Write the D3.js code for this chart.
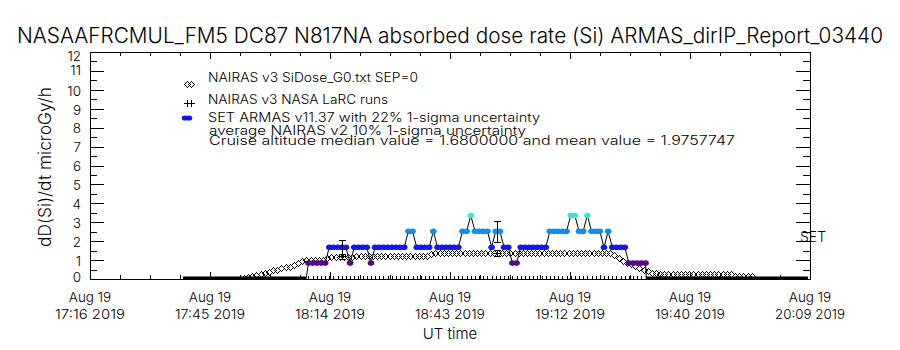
<!DOCTYPE html>
<html>
<head>
<meta charset="utf-8">
<script src="https://cdn.jsdelivr.net/npm/d3@7"></script>
<style>
  html, body { margin: 0; padding: 0; background: #fff; }
  svg { display: block; }
  text { font-family: "Inter", "Roboto", "DejaVu Sans", sans-serif; font-weight: 300; fill: #000; }
</style>
</head>
<body>
<svg id="chart" width="900" height="350"></svg>
<script>
// ---- data ----
const titleText = "NASAAFRCMUL_FM5 DC87 N817NA absorbed dose rate (Si) ARMAS_dirIP_Report_03440";
const yLabelText = "dD(Si)/dt microGy/h";
const xLabelText = "UT time";

const xStart = "2019-08-19T17:16:00Z";
const xEnd = "2019-08-19T20:09:00Z";
const xTickTop = ["Aug 19", "Aug 19", "Aug 19", "Aug 19", "Aug 19", "Aug 19", "Aug 19"];
const xTickBottom = ["17:16 2019", "17:45 2019", "18:14 2019", "18:43 2019", "19:12 2019", "19:40 2019", "20:09 2019"];
const xMinorPerMajor = 4;
const yTicks = [0, 1, 2, 3, 4, 5, 6, 7, 8, 9, 10, 11, 12];

const legendLabels = [
  "NAIRAS v3 SiDose_G0.txt SEP=0",
  "NAIRAS v3 NASA LaRC runs",
  "SET ARMAS v11.37 with 22% 1-sigma uncertainty",
  "average NAIRAS v2 10% 1-sigma uncertainty",
  "Cruise altitude median value = 1.6800000 and mean value = 1.9757747"
];

// ARMAS in-flight samples (microGy/h), one per minute
const armasStart = "2019-08-19T18:08:30Z";
const armasStepSec = 60;
const armasValues = [
  0.84, 0.84, 0.84, 0.84, 0.84,
  1.68, 1.68, 1.68, 1.68, 1.68,
  0.84,
  1.68, 1.68, 1.68, 1.68,
  0.84,
  1.68, 1.68, 1.68, 1.68, 1.68, 1.68, 1.68, 1.68,
  2.52, 2.52,
  1.68, 1.68, 1.68, 1.68,
  2.52,
  1.68, 1.68, 1.68, 1.68, 1.68, 1.68,
  2.52, 2.52,
  3.36,
  2.52, 2.52, 2.52, 2.52,
  1.68,
  2.52, 2.52,
  1.68, 1.68,
  0.84, 0.84,
  1.68, 1.68, 1.68, 1.68, 1.68, 1.68, 1.68,
  2.52, 2.52, 2.52, 2.52, 2.52,
  3.36, 3.36,
  2.52, 2.52,
  3.36,
  2.52, 2.52, 2.52,
  1.68,
  2.52,
  1.68, 1.68, 1.68, 1.68,
  0.84, 0.84, 0.84, 0.84, 0.84
];
const armasLevels = [0.84, 1.68, 2.52, 3.36];
const armasColors = ["#560a84", "#1616f2", "#128ee8", "#3ee6d2"];

// ARMAS at zero on the ground (before take-off, after landing)
const groundSpans = [
  ["2019-08-19T17:38:20Z", "2019-08-19T18:07:55Z"],
  ["2019-08-19T19:29:40Z", "2019-08-19T20:08:30Z"]
];

// NAIRAS v3 model, one per minute
const nairasStart = "2019-08-19T17:53:00Z";
const nairasStepSec = 60;
const nairasValues = [
  0.06, 0.11, 0.16, 0.2, 0.25, 0.32, 0.39, 0.45, 0.5, 0.56, 0.61, 0.66, 0.74, 0.84, 0.93, 0.98,
  1.0, 1.01, 1.02, 1.03,
  1.1,
  1.16, 1.17, 1.17, 1.18, 1.18, 1.18, 1.19, 1.19, 1.19, 1.2, 1.2, 1.2,
  1.2, 1.2, 1.21, 1.21, 1.21, 1.21, 1.22, 1.22, 1.22, 1.22, 1.23, 1.23,
  1.3,
  1.35, 1.35, 1.36, 1.36, 1.36, 1.36, 1.37, 1.37, 1.37, 1.37,
  1.37, 1.37, 1.37, 1.38, 1.38, 1.38, 1.38, 1.38, 1.38, 1.38,
  1.38, 1.38, 1.38, 1.38, 1.38, 1.38, 1.38, 1.38, 1.38, 1.37,
  1.37, 1.37, 1.37, 1.37, 1.37, 1.37, 1.37, 1.37, 1.37, 1.36,
  1.36, 1.36, 1.35,
  1.25, 1.1, 0.97, 0.87, 0.77, 0.67, 0.56, 0.47, 0.4, 0.33, 0.3, 0.27,
  0.27, 0.27, 0.27, 0.27, 0.27, 0.27, 0.27, 0.27, 0.27, 0.27, 0.27, 0.27, 0.26, 0.26, 0.26, 0.26, 0.26,
  0.16, 0.16, 0.15, 0.15, 0.15
];

// points carrying error bars: ARMAS 22 %, NAIRAS LaRC run 10 %
const errTimes = ["2019-08-19T18:16:30Z", "2019-08-19T18:53:50Z"];
const errArmas = [1.68, 2.52];
const errLarc = [1.2, 1.37];
const armasSigma = 0.22;
const larcSigma = 0.10;

// ---- drawing ----
const svg = d3.select("#chart");
const parseT = d3.utcParse("%Y-%m-%dT%H:%M:%SZ");
const t0 = parseT(xStart), t1 = parseT(xEnd);

const x = d3.scaleUtc().domain([t0, t1]).range([90, 810]);
const y = d3.scaleLinear().domain([0, 12]).range([279, 52]);
const color = d3.scaleOrdinal().domain(armasLevels).range(armasColors);

const armas = armasValues.map((v, i) => ({ t: new Date(+parseT(armasStart) + i * armasStepSec * 1000), v }));
const nairas = nairasValues.map((v, i) => ({ t: new Date(+parseT(nairasStart) + i * nairasStepSec * 1000), v }));
const errPts = errTimes.map((s, i) => ({ t: parseT(s), a: errArmas[i], n: errLarc[i] }));

svg.append("defs").append("clipPath").attr("id", "plotClip")
  .append("rect").attr("x", 90).attr("y", 52).attr("width", 720).attr("height", 227);

const plot = svg.append("g").attr("clip-path", "url(#plotClip)");

const diamond = "M0,-3L3,0L0,3L-3,0Z";
const plus = "M-3.5,0H3.5M0,-3.5V3.5";

// NAIRAS diamonds
plot.append("g").selectAll("path")
  .data(nairas)
  .join("path")
  .attr("transform", d => `translate(${Math.round(x(d.t)) + 0.5},${Math.round(y(d.v)) + 0.5})`)
  .attr("d", diamond)
  .attr("fill", "none")
  .attr("stroke", "#000")
  .attr("stroke-width", 1)
  .attr("shape-rendering", "crispEdges");

// ground segments at zero
plot.append("g").selectAll("line")
  .data(groundSpans)
  .join("line")
  .attr("x1", d => x(parseT(d[0])))
  .attr("x2", d => x(parseT(d[1])))
  .attr("y1", y(0)).attr("y2", y(0))
  .attr("stroke", "#000")
  .attr("stroke-width", 5);

// in-flight marks along the zero line
plot.append("g").selectAll("line")
  .data(armas)
  .join("line")
  .attr("x1", d => Math.round(x(d.t)) + 0.5)
  .attr("x2", d => Math.round(x(d.t)) + 0.5)
  .attr("y1", y(0)).attr("y2", y(0) - 3)
  .attr("stroke", "#000");

// ARMAS connecting line
const armasLine = [{ t: parseT(groundSpans[0][1]), v: 0 }, ...armas, { t: parseT(groundSpans[1][0]), v: 0 }];
plot.append("path")
  .datum(armasLine)
  .attr("d", d3.line().x(d => x(d.t)).y(d => y(d.v)))
  .attr("fill", "none")
  .attr("stroke", "#000")
  .attr("stroke-width", 1);

// ARMAS dots
plot.append("g").selectAll("ellipse")
  .data(armas)
  .join("ellipse")
  .attr("cx", d => x(d.t))
  .attr("cy", d => y(d.v))
  .attr("rx", 3.3)
  .attr("ry", 2.8)
  .attr("fill", d => color(d.v));

// error bars
const bars = plot.append("g").attr("stroke", "#000").attr("fill", "none");
function errBar(g, px, lo, hi, w) {
  g.append("path").attr("d", `M${px},${lo}V${hi}M${px - w},${lo}H${px + w}M${px - w},${hi}H${px + w}`);
}
errPts.forEach(d => {
  const px = Math.round(x(d.t)) + 0.5;
  errBar(bars, px, Math.round(y(d.a * (1 - armasSigma))) + 0.5, Math.round(y(d.a * (1 + armasSigma))) + 0.5, 3.5);
  errBar(bars, px, Math.round(y(d.n * (1 - larcSigma))) + 0.5, Math.round(y(d.n * (1 + larcSigma))) + 0.5, 3.5);
  bars.append("path").attr("transform", `translate(${px},${Math.round(y(d.n)) + 0.5})`).attr("d", plus);
});

// ---- axes ----
const nMaj = xTickBottom.length;
const xMajor = d3.range(nMaj).map(i => new Date(+t0 + i * (t1 - t0) / (nMaj - 1)));
const nMin = (nMaj - 1) * xMinorPerMajor;
const xMinor = d3.range(nMin + 1).map(i => new Date(+t0 + i * (t1 - t0) / nMin));
const yMinor = d3.range(0.5, 12, 1);

function styleAxis(g) {
  g.selectAll("path, line").attr("stroke", "#000").attr("shape-rendering", "crispEdges");
  g.selectAll("text").attr("font-size", 13.5).attr("font-family", null);
}

svg.append("g").attr("transform", "translate(0,279)")
  .call(d3.axisBottom(x).tickValues(xMinor).tickSize(-4).tickSizeOuter(0).tickFormat(""))
  .call(styleAxis);
svg.append("g").attr("transform", "translate(0,279)")
  .call(d3.axisBottom(x).tickValues(xMajor).tickSize(-7).tickSizeOuter(0).tickFormat(""))
  .call(styleAxis);
svg.append("g").attr("transform", "translate(0,52)")
  .call(d3.axisTop(x).tickValues(xMinor).tickSize(-4).tickSizeOuter(0).tickFormat(""))
  .call(styleAxis);
svg.append("g").attr("transform", "translate(0,52)")
  .call(d3.axisTop(x).tickValues(xMajor).tickSize(-7).tickSizeOuter(0).tickFormat(""))
  .call(styleAxis);

// IDL squeezes the end labels inward a little
const yLabelNudge = { 0: -2, 11: -1, 12: 4 };
svg.append("g").attr("transform", "translate(90,0)")
  .call(d3.axisLeft(y).tickValues(yTicks).tickSize(-14).tickSizeOuter(0).tickPadding(9))
  .call(styleAxis)
  .call(g => g.selectAll("text").attr("y", d => (yLabelNudge[d] || 1)));
svg.append("g").attr("transform", "translate(90,0)")
  .call(d3.axisLeft(y).tickValues(yMinor).tickSize(-7).tickSizeOuter(0).tickFormat(""))
  .call(styleAxis);
svg.append("g").attr("transform", "translate(810,0)")
  .call(d3.axisRight(y).tickValues(yTicks).tickSize(-14).tickSizeOuter(0).tickFormat(""))
  .call(styleAxis);
svg.append("g").attr("transform", "translate(810,0)")
  .call(d3.axisRight(y).tickValues(yMinor).tickSize(-7).tickSizeOuter(0).tickFormat(""))
  .call(styleAxis);

// x tick labels, two lines
const xl = svg.append("g").attr("text-anchor", "middle").attr("font-size", 13.5);
xl.selectAll("text.l1").data(xMajor).join("text").attr("class", "l1")
  .attr("x", d => x(d)).attr("y", 302).text((d, i) => xTickTop[i]);
xl.selectAll("text.l2").data(xMajor).join("text").attr("class", "l2")
  .attr("x", d => x(d)).attr("y", 319).attr("textLength", 70).attr("lengthAdjust", "spacingAndGlyphs")
  .text((d, i) => xTickBottom[i]);

// titles
svg.append("text").attr("x", 17).attr("y", 43).attr("font-size", 21)
  .attr("textLength", 866).attr("lengthAdjust", "spacingAndGlyphs").text(titleText);
svg.append("text").attr("x", 450).attr("y", 339).attr("font-size", 15)
  .attr("text-anchor", "middle").text(xLabelText);
svg.append("text").attr("transform", "translate(51,167) rotate(-90)").attr("font-size", 17)
  .attr("text-anchor", "middle").attr("textLength", 160).attr("lengthAdjust", "spacingAndGlyphs")
  .text(yLabelText);
svg.append("text").attr("x", 800).attr("y", 242).attr("font-size", 14).text("SET");

// ---- legend ----
const lg = svg.append("g");
const legY = [82, 104, 122, 135, 145];
const legW = [210, 180, 332, 317, 526];
legendLabels.forEach((s, i) => {
  lg.append("text").attr("x", i < 3 ? 208 : 209).attr("y", legY[i]).attr("font-size", 12.5)
    .attr("textLength", legW[i]).attr("lengthAdjust", "spacingAndGlyphs").text(s);
});
[187, 191].forEach(cx => {
  lg.append("path").attr("transform", `translate(${cx + 0.5},84.5)`).attr("d", diamond)
    .attr("fill", "none").attr("stroke", "#000").attr("shape-rendering", "crispEdges");
  lg.append("path").attr("transform", `translate(${cx + 0.5},103.5)`).attr("d", plus)
    .attr("stroke", "#000");
  lg.append("ellipse").attr("cx", cx - 2).attr("cy", 118).attr("rx", 3.3).attr("ry", 2.6)
    .attr("fill", armasColors[1]);
});
</script>
</body>
</html>
